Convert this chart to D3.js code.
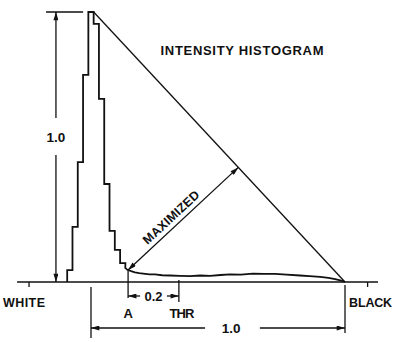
<!DOCTYPE html>
<html>
<head>
<meta charset="utf-8">
<script src="https://cdn.jsdelivr.net/npm/d3@7"></script>
<style>
body { margin: 0; background: #fff; }
text { font-family: "Liberation Sans", Arial, sans-serif; font-weight: bold; fill: #111; }
</style>
</head>
<body>
<div id="chart"></div>
<script>
const width = 398, height = 342;

// histogram bins: offset from peak bin (each bin = 1/48 of peak->black distance)
const binIdx = [-4, -3, -2, -1, 0, 1, 2, 3, 4, 5, 6];
const binVal = [0.044, 0.204, 0.444, 0.767, 1.0, 0.956, 0.678, 0.363, 0.189, 0.119, 0.070];
const binW = 1 / 48;

// long tail toward black (x: distance from peak, y: normalized count)
const tailX = [0.135, 0.142, 0.158, 0.173, 0.19, 0.205, 0.23, 0.252, 0.28, 0.311, 0.35, 0.39, 0.43, 0.469, 0.51, 0.547, 0.59, 0.638, 0.68, 0.724, 0.77, 0.823, 0.86, 0.902, 0.935, 0.961, 0.985, 1.0];
const tailY = [0.052, 0.046, 0.04, 0.036, 0.033, 0.031, 0.028, 0.028, 0.025, 0.024, 0.023, 0.022, 0.024, 0.023, 0.026, 0.028, 0.027, 0.031, 0.030, 0.030, 0.027, 0.024, 0.022, 0.019, 0.015, 0.011, 0.005, 0.0];

// annotation values
const aPos = 0.146, thrGap = 0.2;
const whitePos = -0.244, blackPos = 1.089;
const axisMin = -0.291, axisMax = 1.13;
const dimX = -0.138;          // left "1.0" dimension line
const refLine = [-0.177, -0.031];

const x = d3.scaleLinear().domain([0, 1]).range([91, 345]);
const y = d3.scaleLinear().domain([0, 1]).range([282, 12]);
const y0 = y(0);

const svg = d3.select("#chart").append("svg")
  .attr("width", width).attr("height", height);

const defs = svg.append("defs");
defs.append("marker")
  .attr("id", "ah")
  .attr("viewBox", "0 0 10 6")
  .attr("refX", 10).attr("refY", 3)
  .attr("markerWidth", 9).attr("markerHeight", 5)
  .attr("markerUnits", "userSpaceOnUse")
  .attr("orient", "auto-start-reverse")
  .append("path").attr("d", "M0,0 L10,3 L0,6 Z").attr("fill", "#111");

const ink = "#111";
function seg(x1, y1, x2, y2, start, end, w) {
  const l = svg.append("line")
    .attr("x1", x1).attr("y1", y1).attr("x2", x2).attr("y2", y2)
    .attr("stroke", ink).attr("stroke-width", w || 1.3);
  if (start) l.attr("marker-start", "url(#ah)");
  if (end) l.attr("marker-end", "url(#ah)");
  return l;
}

// baseline + end ticks
seg(x(axisMin), y0, x(axisMax), y0, false, false, 1.7);
seg(x(whitePos), y0, x(whitePos), y0 + 5);
seg(x(blackPos), y0, x(blackPos), y0 + 5);

// histogram path
const pts = [[x(binIdx[0] * binW - binW / 2), y0]];
binIdx.forEach((k, i) => {
  pts.push([x(k * binW - binW / 2), y(binVal[i])]);
  pts.push([x(k * binW + binW / 2), y(binVal[i])]);
});
pts.push([x(tailX[0]), y(tailY[0])]);
tailX.forEach((t, i) => pts.push([x(t), y(tailY[i])]));

svg.append("path")
  .attr("d", d3.line()(pts))
  .attr("fill", "none").attr("stroke", ink)
  .attr("stroke-width", 1.8).attr("stroke-linejoin", "miter");

// diagonal from peak to black end
const S = [x(binW / 2), y(1)], E = [x(1), y(0)];
seg(S[0], S[1], E[0], E[1], false, false, 1.3);

// point A on the curve
const bi = d3.bisector(d => d).left(tailX, aPos);
const ta = (aPos - tailX[bi - 1]) / (tailX[bi] - tailX[bi - 1]);
const aY = tailY[bi - 1] + ta * (tailY[bi] - tailY[bi - 1]);
const P = [x(aPos), y(aY)];

// perpendicular foot on diagonal
const dx = E[0] - S[0], dy = E[1] - S[1], L = Math.hypot(dx, dy);
const ux = dx / L, uy = dy / L;
const tp = (P[0] - S[0]) * ux + (P[1] - S[1]) * uy;
const F = [S[0] + tp * ux, S[1] + tp * uy];
seg(P[0], P[1], F[0], F[1], true, true, 1.3);

const ang = Math.atan2(F[1] - P[1], F[0] - P[0]) * 180 / Math.PI;
const mx = (P[0] + F[0]) / 2, my = (P[1] + F[1]) / 2;
const along = -8, perp = 9.5;
const ax = (F[0] - P[0]) / Math.hypot(F[0] - P[0], F[1] - P[1]);
const ay = (F[1] - P[1]) / Math.hypot(F[0] - P[0], F[1] - P[1]);
const tx = mx + along * ax + perp * ay, ty = my + along * ay - perp * ax;
svg.append("text")
  .attr("transform", `translate(${tx},${ty}) rotate(${ang})`)
  .attr("text-anchor", "middle").attr("dy", "0.36em")
  .attr("font-size", 12.5).attr("textLength", 72).attr("lengthAdjust", "spacing")
  .text("MAXIMIZED");

// left 1.0 dimension
const midY = y(0.537);
seg(x(refLine[0]), y(1), x(refLine[1]), y(1));
seg(x(dimX), midY - 19, x(dimX), y(1), false, true);
seg(x(dimX), midY + 18, x(dimX), y0, false, true);
svg.append("text").attr("x", x(dimX)).attr("y", midY + 5)
  .attr("text-anchor", "middle").attr("font-size", 13.5).text("1.0");

// A and THR ticks with 0.2 dimension
const thrPos = aPos + thrGap;
seg(P[0], P[1], P[0], y0 + 16);
seg(x(thrPos), y0 - 2, x(thrPos), y0 + 20);
seg(x(aPos), y0 + 14, x(aPos) + 12, y0 + 14, true, false);
seg(x(thrPos) - 12, y0 + 14, x(thrPos), y0 + 14, false, true);
svg.append("text").attr("x", x(aPos + thrGap / 2)).attr("y", y0 + 18.5)
  .attr("text-anchor", "middle").attr("font-size", 13).text("0.2");
svg.append("text").attr("x", x(aPos)).attr("y", y0 + 35.5)
  .attr("text-anchor", "middle").attr("font-size", 13).text("A");
svg.append("text").attr("x", x(thrPos) + 3).attr("y", y0 + 35.5)
  .attr("text-anchor", "middle").attr("font-size", 13)
  .attr("textLength", 25).attr("lengthAdjust", "spacing").text("THR");

// bottom 1.0 dimension (peak to black end)
seg(x(0), y0 + 5, x(0), y0 + 56);
seg(x(1), y0 + 3, x(1), y0 + 51);
seg(x(0.449), y0 + 46, x(0), y0 + 46, false, true);
seg(x(0.665), y0 + 46, x(1), y0 + 46, false, true);
svg.append("text").attr("x", x(0.552)).attr("y", y0 + 51)
  .attr("text-anchor", "middle").attr("font-size", 13.5).text("1.0");

// end labels
svg.append("text").attr("x", x(whitePos) - 5).attr("y", y0 + 25)
  .attr("text-anchor", "middle").attr("font-size", 12.5)
  .attr("textLength", 42).attr("lengthAdjust", "spacing").text("WHITE");
svg.append("text").attr("x", x(blackPos) + 3).attr("y", y0 + 25)
  .attr("text-anchor", "middle").attr("font-size", 12.5)
  .attr("textLength", 43).attr("lengthAdjust", "spacing").text("BLACK");

// title
svg.append("text").attr("x", 242).attr("y", 54.5)
  .attr("text-anchor", "middle").attr("font-size", 13)
  .attr("textLength", 163).attr("lengthAdjust", "spacing")
  .text("INTENSITY HISTOGRAM");
</script>
</body>
</html>
